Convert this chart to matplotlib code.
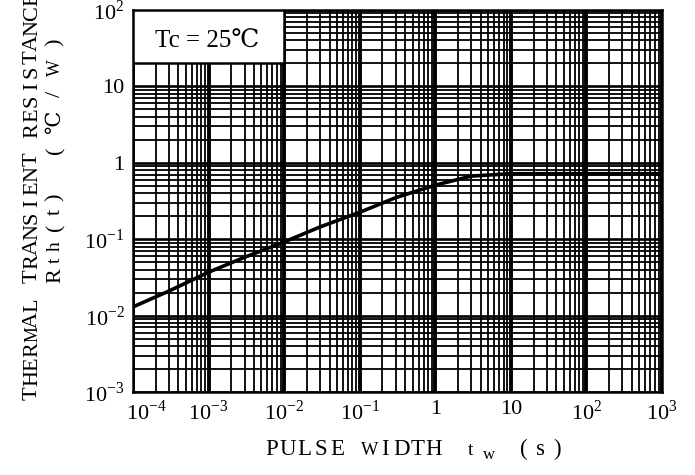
import numpy as np
import matplotlib
matplotlib.use('Agg')
import matplotlib.pyplot as plt
import matplotlib.ticker as ticker
import matplotlib.transforms as mtrans
from matplotlib.patches import Rectangle

plt.rcParams['mathtext.fontset'] = 'custom'
plt.rcParams['mathtext.rm'] = 'Liberation Serif'

# pulse width tw (s) vs transient thermal resistance Rth(t) (C/W)
tw = [1e-4, 3e-4, 1e-3, 3e-3, 1e-2, 3e-2, 1e-1, 3e-1, 1, 3, 10, 100, 1000]
rth = [0.013, 0.021, 0.037, 0.058, 0.092, 0.145, 0.225, 0.35, 0.51, 0.67, 0.72, 0.72, 0.72]

xticks = [1e-4, 1e-3, 1e-2, 1e-1, 1, 10, 1e2, 1e3]
xticklabels = [r'$10^{-4}$', r'$10^{-3}$', r'$10^{-2}$', r'$10^{-1}$', '1', '10', r'$10^{2}$', r'$10^{3}$']
yticks = [1e-3, 1e-2, 1e-1, 1, 10, 1e2]
yticklabels = [r'$10^{-3}$', r'$10^{-2}$', r'$10^{-1}$', '1', '10', r'$10^{2}$']

W, H = 695, 475
SERIF = ['Liberation Serif', 'DejaVu Serif']
fig = plt.figure(figsize=(W/100, H/100), dpi=100)
ax = fig.add_axes([133/W, 1-392/H, (662-133)/W, (392-10)/H])
ax.set_xscale('log')
ax.set_yscale('log')
ax.set_xlim(1e-4, 1e3)
ax.set_ylim(1e-3, 1e2)

ax.set_xticks(xticks)
ax.set_xticklabels(xticklabels, fontsize=16, family='Liberation Serif')
ax.set_yticks(yticks)
ax.set_yticklabels(yticklabels, fontsize=16, family='Liberation Serif')
ax.xaxis.set_minor_locator(ticker.LogLocator(base=10, subs=np.arange(2, 10), numticks=20))
ax.yaxis.set_minor_locator(ticker.LogLocator(base=10, subs=np.arange(2, 10), numticks=20))
ax.xaxis.set_minor_formatter(ticker.NullFormatter())
ax.yaxis.set_minor_formatter(ticker.NullFormatter())
ax.tick_params(which='both', length=0)
ax.tick_params(axis='x', pad=6)
ax.tick_params(axis='y', pad=6)

# first x label sits a bit right of its tick
lab0 = ax.get_xticklabels()[0]
lab0.set_transform(lab0.get_transform() + mtrans.ScaledTranslation(0.13, 0, fig.dpi_scale_trans))

ax.xaxis.grid(True, which='major', color='k', lw=2.8)
ax.yaxis.grid(True, which='major', color='k', lw=1.9)
ax.xaxis.grid(True, which='minor', color='k', lw=1.3)
ax.yaxis.grid(True, which='minor', color='k', lw=1.3)
for sp in ax.spines.values():
    sp.set_linewidth(1.8)

ax.plot(tw, rth, color='k', lw=2.6, zorder=4)

# condition box
box = Rectangle((1e-4, 20), 1e-2 - 1e-4, 80, fc='white', ec='k', lw=1.8, zorder=5)
ax.add_patch(box)
ax.text(0.14, 0.916, 'Tc = 25\u2103', transform=ax.transAxes, ha='center', va='center',
        fontsize=18, family=SERIF, zorder=6)


def typed(x, y, s, pitch, size, vertical=False):
    # typewriter-like text: one glyph per fixed step (pixel units),
    # wide capitals squeezed a little so they fit the step
    for i, ch in enumerate(s):
        if ch == ' ':
            continue
        sz = size * 0.8 if ch in 'MW' else size
        if vertical:
            fig.text(x/W, 1-(y - i*pitch)/H, ch, rotation=90, rotation_mode='anchor',
                     ha='center', va='baseline', fontsize=sz, family=SERIF)
        else:
            fig.text((x + i*pitch)/W, 1-y/H, ch, ha='center', va='baseline',
                     fontsize=sz, family=SERIF)


# y axis title
typed(37, 393, 'THERMAL TRANSIENT RESISTANCE', 14.6, 16, vertical=True)
typed(60, 276, 'R', 16, 16, vertical=True)
typed(60, 260, 'th', 14, 14, vertical=True)
typed(60, 227, '(t)', 15, 16, vertical=True)
typed(60, 150, '(', 16, 16, vertical=True)
typed(60, 122, '\u2103', 16, 15, vertical=True)
typed(60, 94, '/W)', 26, 16, vertical=True)

# x axis title
typed(272, 455, 'PULSE WIDTH', 16.2, 16.5)
typed(471, 455, 't', 16, 14)
typed(489, 459, 'w', 16, 12)
typed(524, 455, '(s)', 16.5, 16.5)

fig.savefig('out.png', dpi=100)
